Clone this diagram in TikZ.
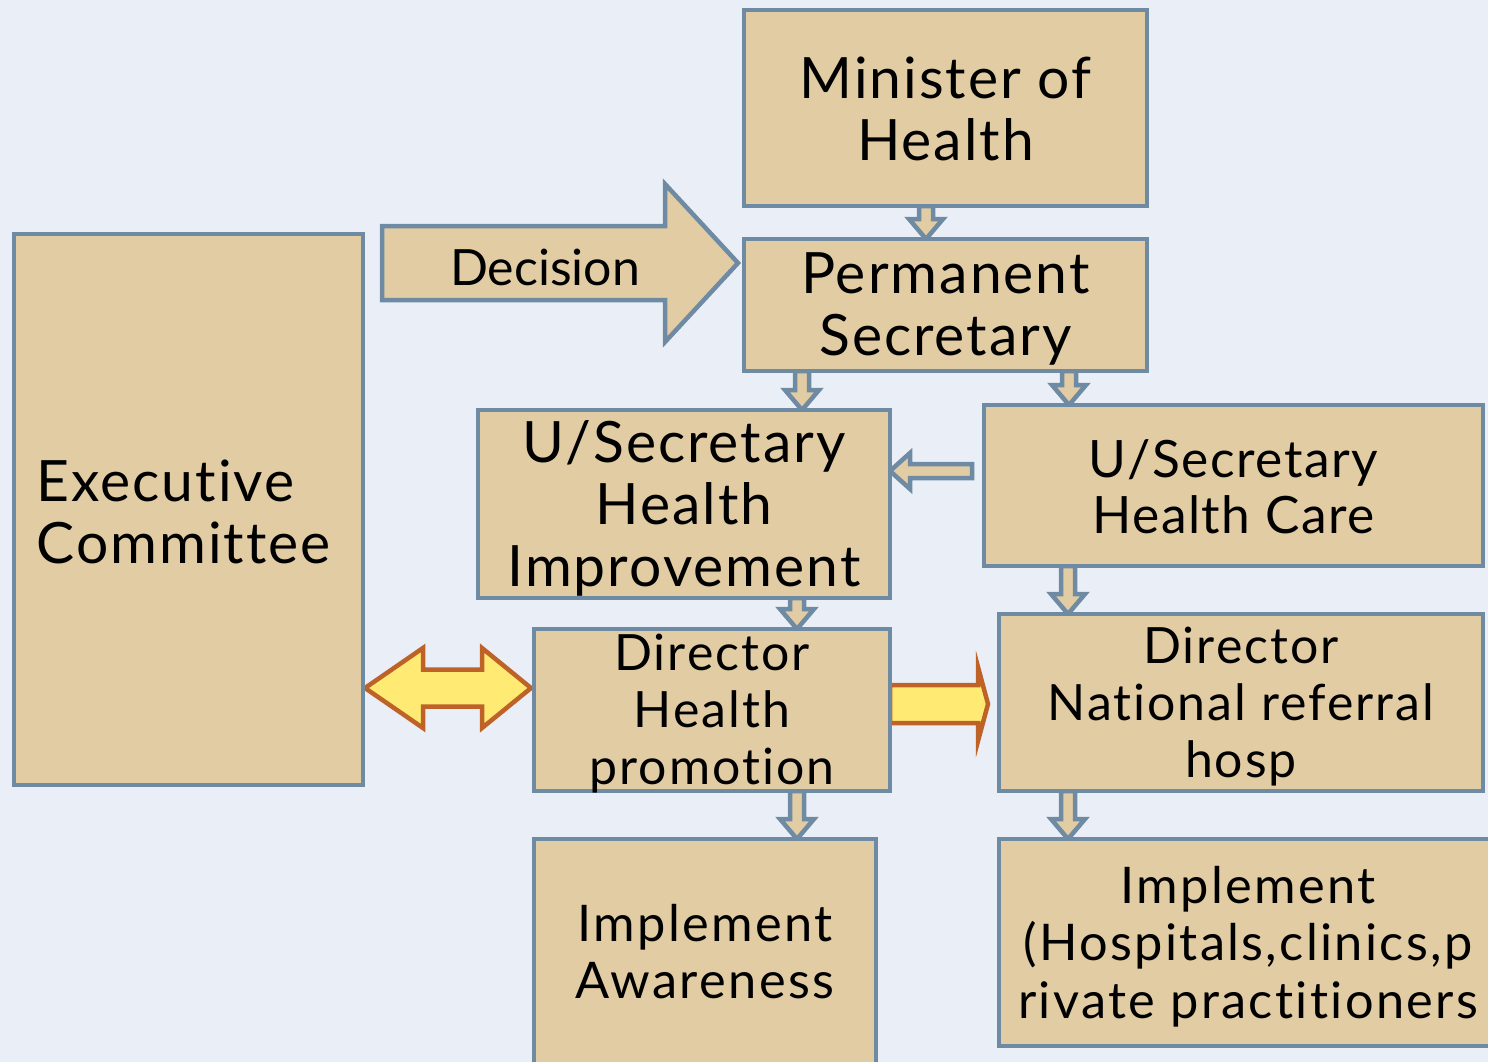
\documentclass[tikz,border=0pt]{standalone}
\usepackage{fontspec}
\setmainfont{Lato}[Ligatures=NoCommon]
\newfontfamily\lsbig{Lato}[LetterSpace=3.5, Ligatures=NoCommon]
\newfontfamily\lsmid{Lato}[LetterSpace=3.0, Ligatures=NoCommon]
\newfontfamily\lsdir{Lato}[LetterSpace=4.0, Ligatures=NoCommon]
\newfontfamily\lsimp{Lato}[LetterSpace=4.6, Ligatures=NoCommon]
\usetikzlibrary{calc,backgrounds}
\definecolor{bgc}{RGB}{234,239,247}
\definecolor{boxfill}{RGB}{225,204,163}
\definecolor{edgec}{RGB}{111,138,163}
\definecolor{yel}{RGB}{255,235,116}
\definecolor{org}{RGB}{190,98,40}
\tikzset{
 box/.style={draw=edgec, fill=boxfill, line width=4.5pt, outer sep=0pt, inner sep=0pt},
 bigfont/.style={font=\lsbig\fontsize{57}{62}\selectfont, align=center},
 midfont/.style={font=\lsmid\fontsize{51.5}{56}\selectfont, align=center},
 dirfont/.style={font=\lsdir\fontsize{50}{57}\selectfont, align=center},
 impfont/.style={font=\lsimp\fontsize{50.5}{57.5}\selectfont, align=center},
 decfont/.style={font=\fontsize{50}{57}\selectfont},
 sarrow/.style={draw=edgec, fill=boxfill, line width=4.5pt, line join=miter},
 yarrow/.style={draw=org, fill=yel, line width=4.5pt, line join=miter},
}
\newcommand\vblock[2]{\draw[sarrow] let \p1=(#1), \p2=(#2) in
  (\x1-7pt,\y1) -- (\x1-7pt,\y2+20pt) -- (\x1-17pt,\y2+20pt) -- (\x1,\y2)
  -- (\x1+17pt,\y2+20pt) -- (\x1+7pt,\y2+20pt) -- (\x1+7pt,\y1) -- cycle;}
\begin{document}
\begin{tikzpicture}[x=1pt,y=-1pt]
\useasboundingbox (0,0) rectangle (1488,1062);
\clip (0,0) rectangle (1488,1062);
% boxes
\node[box, minimum width=403, minimum height=196] (min) at (945.5,108) {};
\node[box, minimum width=403, minimum height=132] (ps) at (945.5,305) {};
\node[box, minimum width=349, minimum height=551] (exec) at (188.5,509.5) {};
\node[box, minimum width=412, minimum height=188] (hi) at (684,504) {};
\node[box, minimum width=499, minimum height=161] (hc) at (1233.5,485.5) {};
\node[box, minimum width=356, minimum height=162] (dhp) at (712,710) {};
\node[box, minimum width=484, minimum height=177] (dnr) at (1241,702.5) {};
\node[box, minimum width=342, minimum height=225] (ia) at (705,951.5) {};
\node[box, minimum width=491, minimum height=207] (ih) at (1244.5,942.5) {};
% texts
\node[bigfont] (min-t) at ([yshift=-1pt]min.center) {Minister of\\Health};
\node[bigfont] (ps-t) at ([yshift=-4pt]ps.center) {Permanent\\Secretary};
\node[bigfont, align=left, anchor=west] (exec-t) at (33,512) {Executive\\Committee};
\node[bigfont] (hi-t) at ([yshift=-4pt]hi.center) {U/Secretary\\Health\\Improvement};
\node[midfont] (hc-t) at ([yshift=-1pt]hc.center) {U/Secretary\\Health Care};
\node[dirfont] (dhp-t) at ([yshift=-4pt]dhp.center) {Director\\Health\\promotion};
\node[dirfont] (dnr-t) at ([yshift=-4pt]dnr.center) {Director\\National referral\\hosp};
\node[impfont] (ia-t) at (ia) {Implement\\Awareness};
\node[impfont] (ih-t) at ([xshift=3.5pt,yshift=-4pt]ih.center) {Implement\\(Hospitals,clinics,p\\rivate practitioners};
% arrows behind
\begin{scope}[on background layer]
\fill[bgc] (0,0) rectangle (1488,1062);
% decision arrow
\draw[sarrow] let \p1=([yshift=42pt]ps.west) in
  (\x1-362pt,\y1+37pt) -- (\x1-79pt,\y1+37pt) -- (\x1-79pt,\y1+79pt) -- (\x1-6pt,\y1)
  -- (\x1-79pt,\y1-79pt) -- (\x1-79pt,\y1-37pt) -- (\x1-362pt,\y1-37pt) -- cycle;
% small down arrows
\vblock{[xshift=-19.5pt]min.south}{ps.north}
\vblock{[xshift=-143.5pt]ps.south}{hi.north}
\vblock{[xshift=123.5pt]ps.south}{hc.north}
\vblock{[xshift=113pt]hi.south}{dhp.north}
\vblock{[xshift=-165.5pt]hc.south}{dnr.north}
\vblock{[xshift=85pt]dhp.south}{ia.north}
\vblock{[xshift=-173pt]dnr.south}{ih.north}
% left arrow hc -> hi
\draw[sarrow] let \p1=([xshift=-12pt,yshift=14.5pt]hc.west), \p2=(hi.east) in
  (\x1,\y1+7pt) -- (\x2+20pt,\y1+7pt) -- (\x2+20pt,\y1+18pt) -- (\x2,\y1)
  -- (\x2+20pt,\y1-18pt) -- (\x2+20pt,\y1-7pt) -- (\x1,\y1-7pt) -- cycle;
% yellow double arrow
\draw[yarrow] let \p1=(exec.east), \p2=([yshift=22pt]dhp.west) in
  (\x1+2pt,\y2) -- (\x1+60pt,\y2+40pt) -- (\x1+60pt,\y2+18.5pt) -- (\x2-52pt,\y2+18.5pt)
  -- (\x2-52pt,\y2+40pt) -- (\x2-3pt,\y2) -- (\x2-52pt,\y2-40pt) -- (\x2-52pt,\y2-18.5pt)
  -- (\x1+60pt,\y2-18.5pt) -- (\x1+60pt,\y2-40pt) -- cycle;
% yellow right arrow
\draw[yarrow] let \p1=([yshift=6pt]dhp.east), \p2=(dnr.west) in
  (\x1,\y1+19pt) -- (\x2-21pt,\y1+19pt) -- (\x2-21pt,\y1+37pt) -- (\x2-11pt,\y1)
  -- (\x2-21pt,\y1-37pt) -- (\x2-21pt,\y1-19pt) -- (\x1,\y1-19pt) -- cycle;
\end{scope}
\node[decfont] (dec-t) at (545,267) {Decision};
\end{tikzpicture}
\end{document}
